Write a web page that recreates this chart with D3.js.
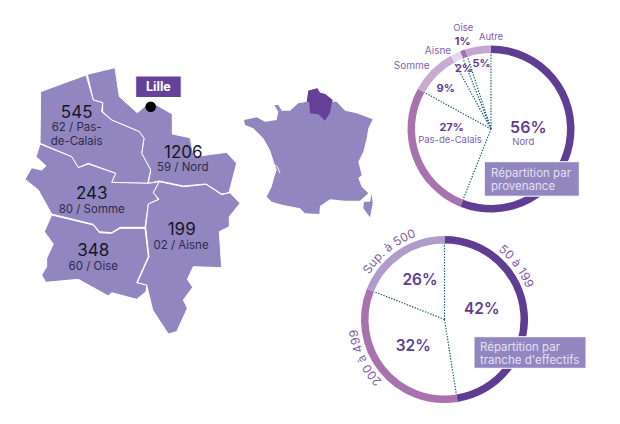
<!DOCTYPE html>
<html>
<head>
<meta charset="utf-8">
<script src="https://d3js.org/d3.v7.min.js"></script>
<style>
html, body { margin: 0; background: #fff; }
svg { display: block; }
text { font-family: Inter, "Open Sans", sans-serif; }
</style>
</head>
<body>
<svg id="chart" width="620" height="424"></svg>
<script>
// departements
var deptNames = ["59 / Nord", "62 / Pas-de-Calais", "80 / Somme", "60 / Oise", "02 / Aisne"];
var deptValues = [1206, 545, 243, 348, 199];

// provenance
var provLabels = ["Nord", "Pas-de-Calais", "Somme", "Aisne", "Oise", "Autre"];
var provValues = [56, 27, 9, 2, 1, 5];

// tranches : the ring in the picture is not drawn to the printed percentages
var trancheLabels = ["50 à 199", "200 à 499", "Sup. à 500"];
var tranchePct = [42, 32, 26];
var trancheRing = [47.5, 33.5, 19];

// outlines
var shapeNord = [[262,103],[345,83],[358,170],[380,190],[412,218],[437,197],[470,195],[517,222],[517,282],[570,293],[582,350],[680,337],[710,370],[687,458],[665,462],[618,432],[550,438],[478,423],[445,430],[452,390],[425,340],[432,295],[418,275],[335,240],[308,215],[308,188],[280,180]];
var shapePas = [[122,155],[258,105],[280,180],[308,188],[305,215],[335,240],[418,275],[432,295],[425,340],[452,390],[443,430],[335,427],[347,400],[265,370],[235,383],[215,350],[120,310]];
var shapeSomme = [[120,312],[215,350],[235,383],[265,372],[347,400],[335,427],[445,430],[478,425],[460,458],[475,478],[445,492],[435,562],[360,562],[335,578],[298,575],[280,553],[155,522],[115,450],[75,418],[95,383],[125,390],[138,378],[108,350]];
var shapeOise = [[155,525],[280,555],[298,578],[335,580],[360,565],[435,565],[445,650],[410,728],[440,735],[438,755],[410,778],[335,758],[325,768],[235,718],[137,727],[125,705],[140,680],[140,655],[160,612],[133,575]];
var shapeAisne = [[478,425],[550,440],[618,433],[665,464],[690,458],[720,490],[688,530],[688,560],[658,575],[665,683],[580,680],[562,718],[578,742],[550,780],[562,805],[530,875],[505,882],[458,810],[440,735],[412,728],[447,650],[437,562],[445,492],[477,478],[460,458]];

var shapeFrance = [[42,150],[80,142],[105,155],[140,150],[145,125],[133,105],[145,105],[155,122],[180,122],[205,100],[232,95],[235,62],[262,55],[270,68],[285,72],[308,90],[305,95],[320,95],[345,122],[380,130],[428,148],[415,175],[410,205],[400,245],[385,275],[395,315],[385,325],[395,350],[415,370],[390,392],[345,392],[300,388],[270,408],[268,432],[225,430],[210,415],[160,405],[125,395],[110,380],[125,350],[132,325],[140,300],[133,280],[120,240],[100,205],[70,175],[45,165]];
var shapeCorse = [[425,372],[420,395],[402,395],[400,415],[420,442],[428,400]];
var shapeHdf = [[235,62],[262,55],[270,68],[285,72],[308,90],[305,100],[300,128],[285,152],[265,133],[240,130],[238,97],[230,95]];
var shapeGironde = [[135,285],[143,292],[150,310]];

var violet = "#9186c0", dark = "#5f3d92", mid = "#7f5fae";
var svg = d3.select("#chart");

// traced at 3x, so the scales bring them back to page pixels
function outline(dx, dy, closed) {
	var x = d3.scaleLinear().domain([0, 3]).range([dx, dx + 1]);
	var y = d3.scaleLinear().domain([0, 3]).range([dy, dy + 1]);
	return d3.line()
		.x(function(d) { return x(d[0]); })
		.y(function(d) { return y(d[1]); })
		.curve(closed ? d3.curveLinearClosed : d3.curveLinear);
}

function label(g, x, y, txt, size, color, weight) {
	return g.append("text")
		.attr("x", x)
		.attr("y", y)
		.attr("dy", ".35em")
		.attr("text-anchor", "middle")
		.style("font-size", size + "px")
		.style("font-weight", weight || 400)
		.style("fill", color)
		.text(txt);
}

// ---- carte de la region
var deptLine = outline(0, 40, true);
var deptShapes = [shapeNord, shapePas, shapeSomme, shapeOise, shapeAisne];

svg.append("g").selectAll("path")
	.data(deptShapes)
	.enter()
	.append("path")
	.attr("d", deptLine)
	.style("fill", violet)
	.style("stroke", "#fff")
	.style("stroke-width", 1)
	.style("stroke-linejoin", "round");

var map = svg.append("g");
var ink = "#16162a", ink2 = "#2e2b48";
label(map, 76.7, 111.7, deptValues[1], 17, ink);
label(map, 76.7, 127.3, "62 / Pas-", 11.5, ink2);
label(map, 76.7, 141, "de-Calais", 11.5, ink2);
label(map, 183.3, 151.7, deptValues[0], 17, ink);
label(map, 182.7, 167, deptNames[0], 11.5, ink2);
label(map, 91.7, 192.7, deptValues[2], 17, ink);
label(map, 91.7, 208.7, deptNames[2], 11.5, ink2);
label(map, 93.3, 250, deptValues[3], 17, ink);
label(map, 93.3, 265.7, deptNames[3], 11.5, ink2);
label(map, 181.7, 229.3, deptValues[4], 17, ink);
label(map, 181, 244.7, deptNames[4], 11.5, ink2);

map.append("rect")
	.attr("x", 135.7).attr("y", 76)
	.attr("width", 45.5).attr("height", 21.5)
	.style("fill", "#65429a")
	.style("stroke", "#fff");
label(map, 158.4, 86.9, "Lille", 12.5, "#fff", 700);
map.append("circle")
	.attr("cx", 150.7).attr("cy", 106.7).attr("r", 5.3)
	.style("fill", "#000");

// ---- France
var frLine = outline(230, 70, true);
var fr = svg.append("g");
fr.append("path").attr("d", frLine(shapeFrance)).style("fill", violet);
fr.append("path").attr("d", frLine(shapeCorse)).style("fill", violet);
fr.append("path").attr("d", frLine(shapeHdf)).style("fill", "#663f98");
fr.append("path").attr("d", outline(230, 70, false)(shapeGironde))
	.style("fill", "none").style("stroke", "#fff").style("stroke-width", 1);

// ---- anneaux
function ring(cx, cy, values, colors) {
	var g = svg.append("g").attr("transform", "translate(" + cx + "," + cy + ")");
	var arcs = d3.pie().sort(null)(values);
	var arc = d3.arc().innerRadius(76).outerRadius(83.5);
	g.selectAll("path")
		.data(arcs)
		.enter()
		.append("path")
		.attr("d", arc)
		.style("fill", function(d, i) { return colors[i]; });
	g.selectAll("line")
		.data(arcs)
		.enter()
		.append("line")
		.attr("x2", function(d) { return d3.pointRadial(d.startAngle, 76)[0]; })
		.attr("y2", function(d) { return d3.pointRadial(d.startAngle, 76)[1]; })
		.style("stroke", "#1d5c72")
		.style("stroke-width", 1.2)
		.style("stroke-dasharray", "1.4 1.4");
	return g;
}

function boxNote(x, y, w, h, lines, tx, first) {
	svg.append("rect")
		.attr("x", x).attr("y", y)
		.attr("width", w).attr("height", h)
		.style("fill", violet)
		.style("stroke", "#fff");
	lines.forEach(function(l, i) {
		svg.append("text")
			.attr("x", tx)
			.attr("y", y + first + i * 13.4)
			.style("font-size", "11.5px")
			.style("fill", "#e4e0f2")
			.text(l);
	});
}

ring(491, 129, provValues, [dark, "#a872ae", "#c9aad2", "#e4d8ea", "#a56fae", "#c3a6d0"]);
ring(444.5, 319.5, trancheRing, [dark, "#a872ae", "#b09ccb"]);

// provenance labels
var t = svg.append("g");
label(t, 463.3, 27.7, provLabels[4], 9.5, mid);
label(t, 462.7, 41, provValues[4] + "%", 11, dark, 700);
label(t, 491, 37, provLabels[5], 9.5, mid);
label(t, 438, 50.7, provLabels[3], 10, mid);
label(t, 411.7, 65, provLabels[2], 10, mid);
label(t, 464, 68, provValues[3] + "%", 11, dark, 700);
label(t, 481.7, 62.7, provValues[5] + "%", 11, dark, 700);
label(t, 445.7, 88.3, provValues[2] + "%", 11, dark, 700);
label(t, 451.7, 126.7, provValues[1] + "%", 11, dark, 700);
label(t, 450, 139.3, provLabels[1], 9.5, mid);
label(t, 528.3, 127.5, provValues[0] + "%", 16, dark, 600);
label(t, 523.3, 141.5, provLabels[0], 9.5, mid);
boxNote(484.3, 161.7, 95, 34.5, ["Répartition par", "provenance"], 491, 15);

// tranches labels
label(t, 481.7, 308.3, tranchePct[0] + "%", 15.5, dark, 600);
label(t, 413.3, 346, tranchePct[1] + "%", 15.5, dark, 600);
label(t, 420, 279.3, tranchePct[2] + "%", 15.5, dark, 600);
boxNote(474, 336.7, 112, 31.6, ["Répartition par", "tranche d'effectifs"], 480, 14);

// curved labels round the second ring
var rLab = 87.5;
var circle = d3.path();
circle.arc(0, 0, rLab, -Math.PI / 2, Math.PI * 1.5);
var curve = svg.append("g").attr("transform", "translate(444.5,319.5)");
curve.append("path").attr("id", "rim").attr("d", circle.toString()).style("fill", "none");
var rimAngles = [53.5, 244.4, 321];
curve.selectAll("text")
	.data(trancheLabels)
	.enter()
	.append("text")
	.style("font-size", "12px")
	.style("fill", mid)
	.attr("text-anchor", "middle")
	.append("textPath")
	.attr("href", "#rim")
	.attr("startOffset", function(d, i) { return (rimAngles[i] / 360 * 100) + "%"; })
	.text(function(d) { return d; });
</script>
</body>
</html>
